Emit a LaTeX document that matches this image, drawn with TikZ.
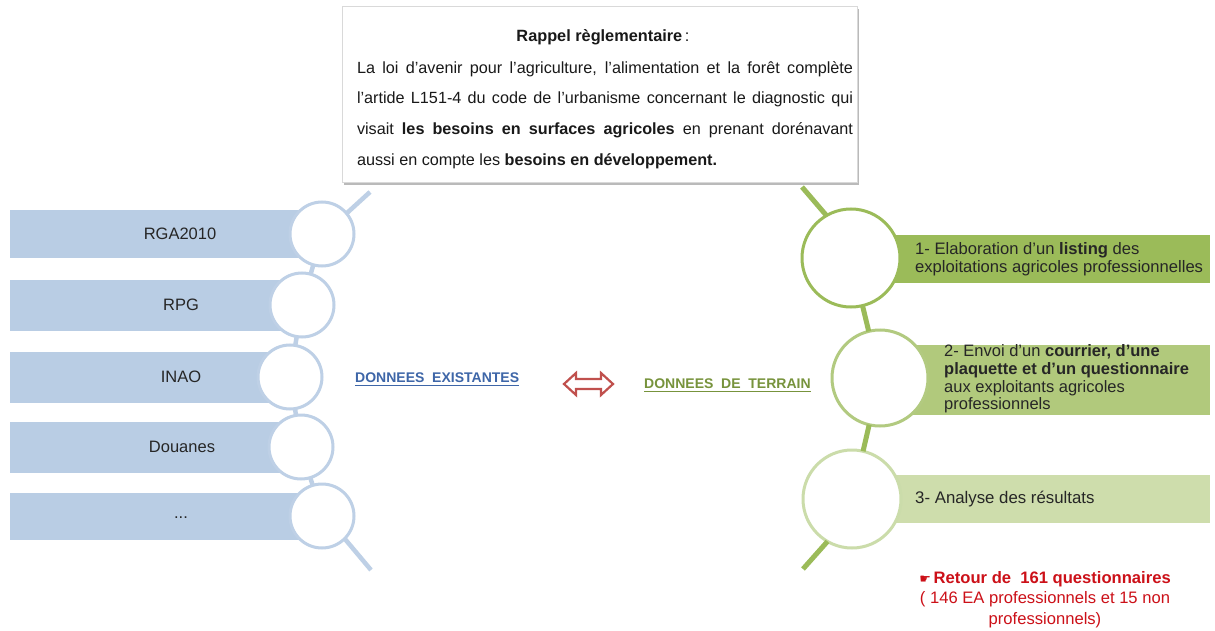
\documentclass[tikz,border=0pt]{standalone}
\usepackage{fontspec}
\setmainfont{Liberation Sans}
\newfontfamily\symfont{DejaVu Sans}
\usetikzlibrary{shadows}
\definecolor{bluebar}{RGB}{185,205,228}
\definecolor{blueline}{RGB}{190,208,230}
\definecolor{greenA}{RGB}{155,187,89}
\definecolor{greenB}{RGB}{177,201,124}
\definecolor{greenC}{RGB}{206,221,172}
\definecolor{greenCircB}{RGB}{178,202,128}
\definecolor{greenCircC}{RGB}{203,220,170}
\definecolor{arrowred}{RGB}{192,80,77}
\definecolor{textred}{RGB}{204,16,24}
\definecolor{dblue}{RGB}{62,102,168}
\definecolor{dgreen}{RGB}{119,147,60}
\tikzset{
  barbox/.style={fill=#1, draw=none, anchor=west, inner sep=0pt, outer sep=0pt},
  bcirc/.style={circle, draw=blueline, fill=white, line width=3pt, minimum size=64pt, inner sep=0pt, outer sep=0pt},
  gcirc/.style={circle, draw=#1, fill=white, line width=3pt, minimum size=98pt, inner sep=0pt, outer sep=0pt},
  blink/.style={draw=blueline, line width=4.5pt},
  glink/.style={draw=#1, line width=5pt},
  lbl/.style={font=\fontsize{16.5}{18}\selectfont, text=black!85, inner sep=0pt},
  gtxt/.style={font=\fontsize{16.6}{17.6}\selectfont, text=black!85, anchor=west, align=left, inner sep=0pt},
  topbox/.style={draw=black!15, fill=white, line width=0.6pt, inner sep=0pt,
     drop shadow={shadow xshift=2pt, shadow yshift=-3pt, fill=black!45, opacity=0.6}},
  midtxt/.style={font=\bfseries\fontsize{14}{16}\selectfont, anchor=west, inner sep=0pt}
}
\begin{document}
\begin{tikzpicture}[x=1pt,y=-1pt]
\useasboundingbox[fill=white] (0,0) rectangle (1215,631);

% ---------- top reminder box ----------
\node[topbox, minimum width=515pt, minimum height=176pt] (box) at (599.5,94) {};
\node[font=\fontsize{16.3}{18}\selectfont, text=black!90, inner sep=0pt] (title) at (603,37) {\textbf{Rappel règlementaire}\,:};
\node[font=\fontsize{16.2}{30.7}\selectfont, text=black!90, text width=496pt, align=justify, anchor=north, inner sep=0pt] (para) at (605,61)
 {La loi d’avenir pour l’agriculture, l’alimentation et la forêt complète\linebreak
  l’artide L151-4 du code de l’urbanisme concernant le diagnostic qui\linebreak
  visait \textbf{les besoins en surfaces agricoles} en prenant dorénavant\linebreak
  aussi en compte les \textbf{besoins en développement.}};

% ---------- left side : existing data ----------
\node[barbox=bluebar, minimum width=312pt, minimum height=48pt] (b1) at (10,234) {};
\node[barbox=bluebar, minimum width=292pt, minimum height=51pt] (b2) at (10,305.5) {};
\node[barbox=bluebar, minimum width=280pt, minimum height=51pt] (b3) at (10,377) {};
\node[barbox=bluebar, minimum width=291pt, minimum height=51pt] (b4) at (10,447.5) {};
\node[barbox=bluebar, minimum width=312pt, minimum height=47pt] (b5) at (10,516.5) {};

\node[lbl] (l1) at (180,234) {RGA2010};
\node[lbl] (l2) at (181,305) {RPG};
\node[lbl] (l3) at (181,377) {INAO};
\node[lbl] (l4) at (182,447) {Douanes};
\node[lbl] (l5) at (181,518) {...};

\node[bcirc] (c1) at (322,234) {};
\node[bcirc] (c2) at (302,305) {};
\node[bcirc] (c3) at (290,377) {};
\node[bcirc] (c4) at (301,447) {};
\node[bcirc] (c5) at (322,516) {};

\coordinate (h1) at (370,192);
\coordinate (h2) at (371,570);
\draw[blink] (c1) -- (c2);
\draw[blink] (c2) -- (c3);
\draw[blink] (c3) -- (c4);
\draw[blink] (c4) -- (c5);
\draw[blink] (c1.40) -- (h1);
\draw[blink] (c5.-45) -- (h2);

% ---------- middle ----------
\node[midtxt, text=dblue] (de) at (355,378) {DONNEES\ \ EXISTANTES};
\draw[dblue, line width=1.3pt] ([yshift=-2.6pt]de.south west) -- ([yshift=-2.6pt]de.south east);
\node[midtxt, text=dgreen] (dt) at (644,384) {DONNEES\ \ DE\ \ TERRAIN};
\draw[dgreen, line width=1.3pt] ([yshift=-2.6pt]dt.south west) -- ([yshift=-2.6pt]dt.south east);

\draw[arrowred, line width=2.2pt, fill=white, line join=miter]
  (564,384) -- (576,373) -- (576,379) -- (601,379) -- (601,373) -- (613,384)
  -- (601,395) -- (601,389) -- (576,389) -- (576,395) -- cycle;

% ---------- right side : field data ----------
\node[barbox=greenA, minimum width=359pt, minimum height=48pt] (g1) at (851,259) {};
\node[barbox=greenB, minimum width=330pt, minimum height=70pt] (g2) at (880,380) {};
\node[barbox=greenC, minimum width=358pt, minimum height=48pt] (g3) at (852,499) {};

\node[gcirc=greenA] (c6) at (851,258) {};
\node[gcirc=greenCircB, minimum size=96pt] (c7) at (880,378) {};
\node[gcirc=greenCircC] (c8) at (852,499) {};

\coordinate (h3) at (802,187);
\coordinate (h4) at (803,569);
\draw[glink=greenA] (c6.120) -- (h3);
\draw[glink=greenA] (c6) -- (c7);
\draw[glink=greenA] (c7) -- (c8);
\draw[glink=greenA] (c8.240) -- (h4);

\node[gtxt] (t1) at (915,259.5) {1- Elaboration d’un \textbf{listing} des\\exploitations agricoles professionnelles};
\node[gtxt, font=\fontsize{16.5}{17.7}\selectfont] (t2) at (944,379) {2- Envoi d’un \textbf{courrier, d’une}\\\textbf{plaquette et d’un questionnaire}\\aux exploitants agricoles\\professionnels};
\node[gtxt, font=\fontsize{16.8}{18}\selectfont] (t3) at (915,499) {3- Analyse des résultats};

\node[font=\fontsize{16.6}{20.5}\selectfont, text=textred, align=center, anchor=north, inner sep=0pt] (ret) at (1045,571)
 {{\symfont\fontsize{13}{15}\selectfont ☛}\,\textbf{Retour de\ \ 161 questionnaires}\\( 146 EA professionnels et 15 non\\professionnels)};
\end{tikzpicture}
\end{document}
